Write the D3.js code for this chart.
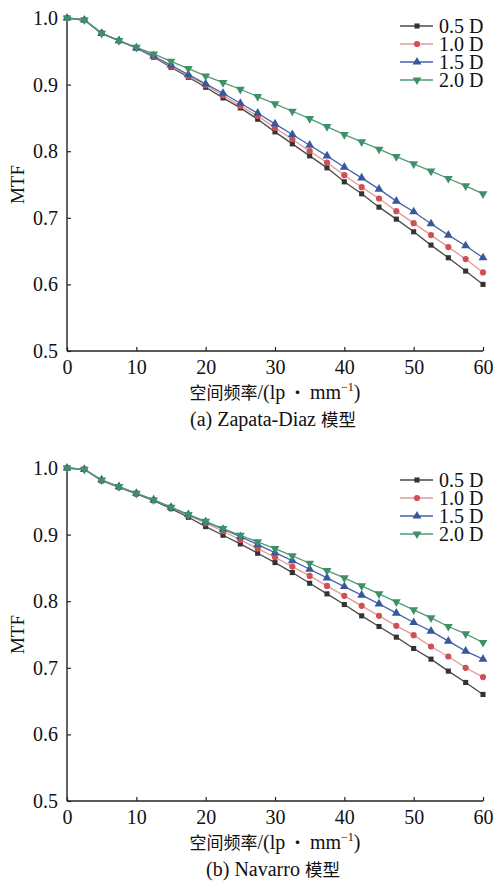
<!DOCTYPE html>
<html>
<head>
<meta charset="utf-8">
<script src="https://cdn.jsdelivr.net/npm/d3@7"></script>
<style>
  body { margin: 0; background: #fff; }
  svg text { font-family: "Liberation Serif", "Noto Serif CJK SC", "Noto Sans CJK SC", serif; fill: #111; }
  svg text .cjk { font-family: "Noto Sans CJK SC", sans-serif; }
</style>
</head>
<body>
<svg id="chart" width="494" height="886"></svg>
<script>
// spatial frequency samples (lp/mm)
const freq = [0, 2.5, 5, 7.5, 10, 12.5, 15, 17.5, 20, 22.5, 25, 27.5, 30,
              32.5, 35, 37.5, 40, 42.5, 45, 47.5, 50, 52.5, 55, 57.5, 60];

const seriesNames = ["0.5 D", "1.0 D", "1.5 D", "2.0 D"];

// (a) Zapata-Diaz model
const zd05 = [1.000,0.997,0.977,0.966,0.955,0.941,0.926,0.911,0.896,0.880,0.865,0.848,0.829,0.811,0.793,0.775,0.754,0.736,0.716,0.698,0.679,0.659,0.640,0.620,0.600];
const zd10 = [1.000,0.997,0.977,0.966,0.955,0.942,0.928,0.913,0.899,0.884,0.868,0.853,0.835,0.818,0.800,0.783,0.764,0.746,0.729,0.710,0.692,0.674,0.656,0.638,0.618];
const zd15 = [1.000,0.997,0.977,0.966,0.955,0.943,0.929,0.915,0.901,0.887,0.872,0.857,0.841,0.825,0.809,0.793,0.776,0.760,0.743,0.725,0.709,0.691,0.674,0.658,0.640];
const zd20 = [1.000,0.997,0.977,0.966,0.956,0.946,0.935,0.924,0.913,0.903,0.893,0.882,0.871,0.860,0.849,0.837,0.825,0.814,0.803,0.792,0.781,0.770,0.759,0.748,0.736];

// (b) Navarro model
const nv05 = [1.000,0.998,0.981,0.971,0.961,0.951,0.939,0.926,0.912,0.899,0.886,0.872,0.858,0.843,0.827,0.811,0.795,0.778,0.762,0.746,0.729,0.713,0.695,0.678,0.660];
const nv10 = [1.000,0.998,0.981,0.971,0.962,0.952,0.941,0.929,0.917,0.905,0.892,0.879,0.866,0.852,0.838,0.823,0.808,0.793,0.778,0.763,0.749,0.732,0.717,0.700,0.686];
const nv15 = [1.000,0.998,0.982,0.972,0.962,0.952,0.941,0.930,0.919,0.908,0.897,0.885,0.873,0.861,0.848,0.835,0.822,0.809,0.796,0.782,0.768,0.755,0.740,0.725,0.713];
const nv20 = [1.000,0.998,0.982,0.972,0.962,0.952,0.941,0.930,0.920,0.909,0.899,0.889,0.879,0.868,0.857,0.846,0.835,0.823,0.811,0.799,0.787,0.775,0.762,0.751,0.738];

const xTicks = [0, 10, 20, 30, 40, 50, 60];
const yTicks = [0.5, 0.6, 0.7, 0.8, 0.9, 1.0];

// styles for each series (line colour, marker colour, marker shape)
const lineColors = ["#4a4a4a", "#e39a98", "#4565a8", "#4f9c74"];
const markColors = ["#333333", "#d04f52", "#38589e", "#3e9068"];
const symbols = [d3.symbolSquare, d3.symbolCircle, d3.symbolTriangle, d3.symbolTriangle];
const symSize = [26, 30, 34, 34];
const symRot = [0, 0, 0, 180];

const svg = d3.select("#chart");

function drawPanel(top, seriesList, capLatin, legendTop) {
    let left = 67, width = 416, height = 333;

    let x = d3.scaleLinear().domain([0, 60]).range([left, left + width]);
    let y = d3.scaleLinear().domain([0.5, 1.0]).range([top + height, top]);

    let g = svg.append("g");

    // x axis (ticks point inward)
    let xAxis = g.append("g")
        .attr("transform", "translate(0," + (top + height) + ")")
        .call(d3.axisBottom(x).tickValues(xTicks).tickSize(-4).tickPadding(9).tickFormat(d3.format("d")));
    xAxis.select(".domain").attr("stroke", "#222").attr("stroke-width", 1.4).attr("d", "M" + left + ",0H" + (left + width));
    xAxis.selectAll(".tick line").attr("stroke", "#222").attr("stroke-width", 1.2);
    xAxis.selectAll(".tick text").style("font-size", "20px").attr("dy", "0.71em");

    // y axis
    let yAxis = g.append("g")
        .attr("transform", "translate(" + left + ",0)")
        .call(d3.axisLeft(y).tickValues(yTicks).tickSize(-4).tickPadding(9).tickFormat(d3.format(".1f")));
    yAxis.select(".domain").attr("stroke", "#222").attr("stroke-width", 1.4).attr("d", "M0," + top + "V" + (top + height));
    yAxis.selectAll(".tick line").attr("stroke", "#222").attr("stroke-width", 1.2);
    yAxis.selectAll(".tick text").style("font-size", "20px");

    // y label
    g.append("text")
        .attr("transform", "translate(24," + (top + height / 2) + ") rotate(-90)")
        .attr("text-anchor", "middle")
        .style("font-size", "19px")
        .text("MTF");

    // x label
    let xl = g.append("text")
        .attr("x", 275).attr("y", top + height + 48)
        .attr("text-anchor", "middle")
        .style("font-size", "20px");
    xl.append("tspan").attr("class", "cjk").style("font-size", "17px").text("空间频率");
    xl.append("tspan").text("/(lp");
    xl.append("tspan").attr("class", "cjk").style("font-size", "17px").text(" ・ ");
    xl.append("tspan").text("mm");
    xl.append("tspan").style("font-size", "12px").attr("dy", -8).text("−1");
    xl.append("tspan").attr("dy", 8).text(")");

    // caption
    let cap = g.append("text")
        .attr("x", 273).attr("y", top + height + 75)
        .attr("text-anchor", "middle")
        .style("font-size", "20px");
    cap.append("tspan").text(capLatin + " ");
    cap.append("tspan").attr("class", "cjk").style("font-size", "17.5px").text("模型");

    let line = d3.line()
        .x(function(d, i){ return x(freq[i]); })
        .y(function(d){ return y(d); });

    seriesList.forEach(function(vals, s){
        g.append("path")
            .attr("d", line(vals))
            .attr("fill", "none")
            .attr("stroke", lineColors[s])
            .attr("stroke-width", 1.3);

        g.selectAll(".m" + s)
            .data(vals)
            .enter()
            .append("path")
            .attr("d", d3.symbol().type(symbols[s]).size(symSize[s]))
            .attr("transform", function(d, i){
                return "translate(" + x(freq[i]) + "," + y(d) + ") rotate(" + symRot[s] + ")";
            })
            .attr("fill", markColors[s]);
    });

    // legend
    seriesNames.forEach(function(name, s){
        let ly = legendTop + s * 18;
        g.append("line")
            .attr("x1", 400).attr("x2", 433)
            .attr("y1", ly).attr("y2", ly)
            .attr("stroke", lineColors[s]).attr("stroke-width", 1.3);
        g.append("path")
            .attr("d", d3.symbol().type(symbols[s]).size(symSize[s]))
            .attr("transform", "translate(417," + ly + ") rotate(" + symRot[s] + ")")
            .attr("fill", markColors[s]);
        g.append("text")
            .attr("x", 439).attr("y", ly)
            .attr("dy", "0.35em")
            .style("font-size", "20px")
            .text(name);
    });
}

drawPanel(18, [zd05, zd10, zd15, zd20], "(a) Zapata-Diaz", 26);
drawPanel(468, [nv05, nv10, nv15, nv20], "(b) Navarro", 480);
</script>
</body>
</html>
